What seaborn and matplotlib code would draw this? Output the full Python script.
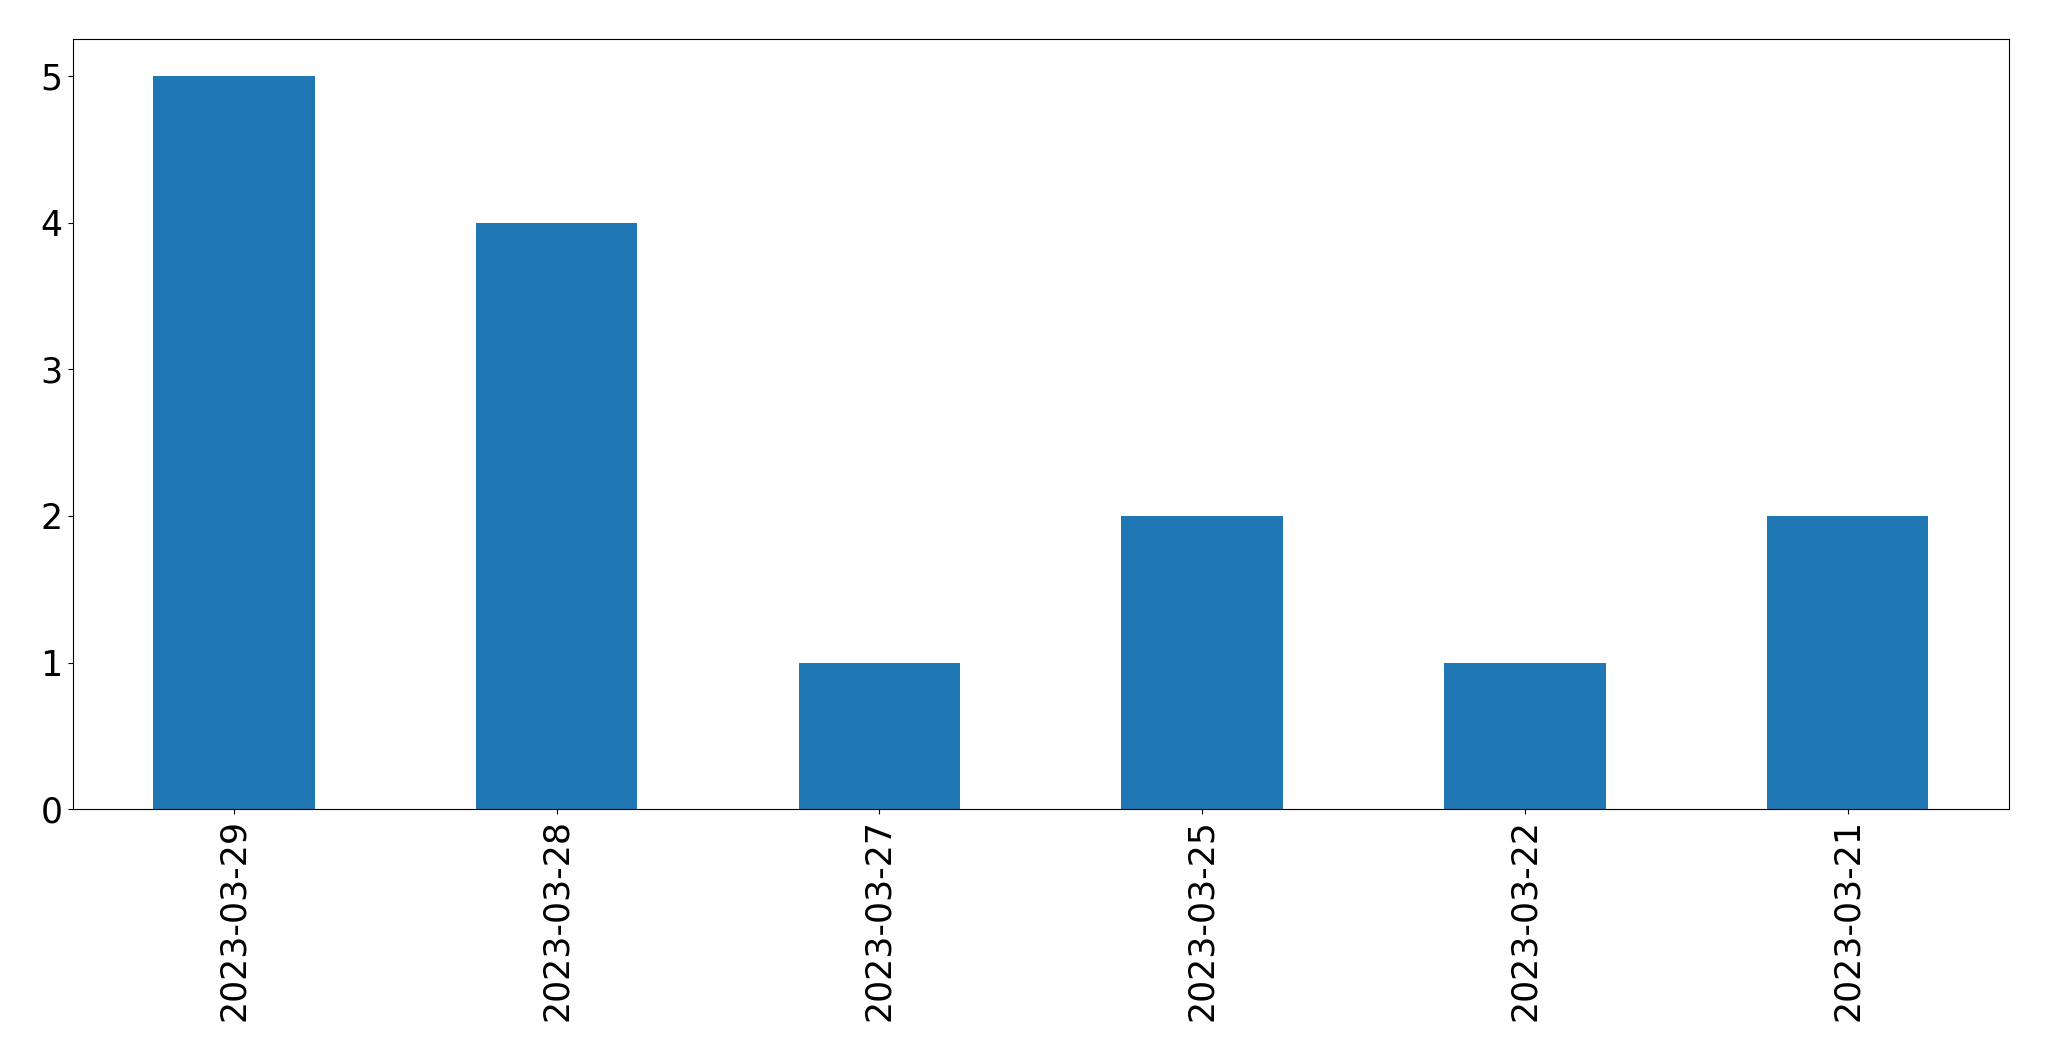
import pandas as pd
import matplotlib
matplotlib.use('Agg')
import matplotlib.pyplot as plt
import seaborn as sns

# Dados do gráfico
datas = ['2023-03-29', '2023-03-28', '2023-03-27', '2023-03-25', '2023-03-22', '2023-03-21']
contagens = [5, 4, 1, 2, 1, 2]

df = pd.DataFrame({'data': datas, 'contagem': contagens})

fig, ax = plt.subplots(figsize=(20.49, 10.61), dpi=100)
sns.barplot(data=df, x='data', y='contagem', order=datas, color='#1f77b4',
            saturation=1, width=0.5, ax=ax)

ax.set_xlim(-0.5, len(datas) - 0.5)
ax.set_ylim(0, 5.25)
ax.set_xlabel('')
ax.set_ylabel('')
ax.tick_params(axis='both', labelsize=25)
plt.xticks(rotation=90)

fig.subplots_adjust(left=0.0354, right=0.9805, top=0.963, bottom=0.2372)
fig.savefig('out.png', dpi=100)
